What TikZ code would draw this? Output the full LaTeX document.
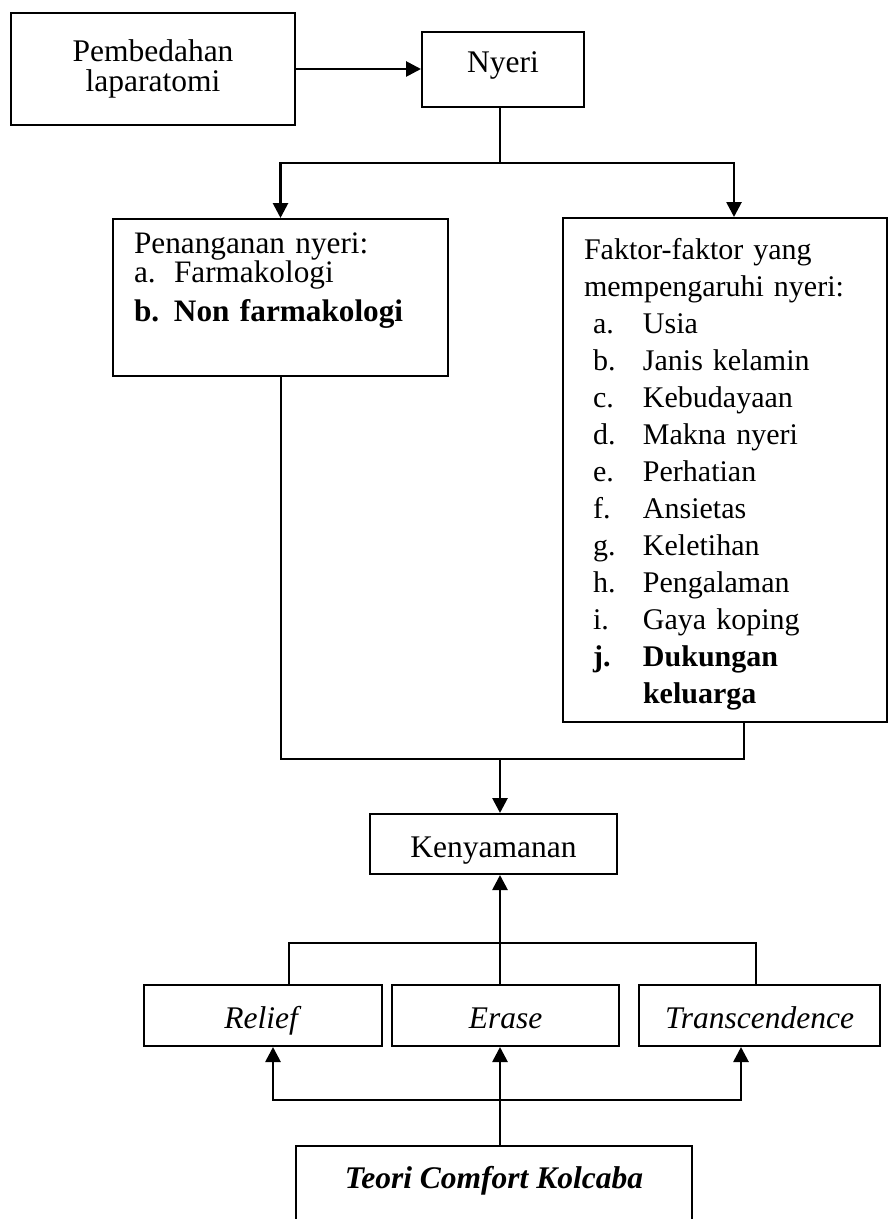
\documentclass[tikz,border=0pt]{standalone}
\usepackage{fontspec}
\setmainfont{Liberation Serif}
\usepackage{tikz}
\usetikzlibrary{arrows.meta,positioning}
\tikzset{
  box/.style ={draw, line width=0.8pt, inner sep=0pt, align=center, font=\fontsize{12.6}{12.3}\selectfont},
  lst/.style ={box, align=left, anchor=north west, inner xsep=8.4pt, inner ysep=0pt},
  row/.style ={box, minimum width=#1, text height=17.2pt, text depth=7.2pt},
  arr/.style ={-{Triangle[length=6pt,width=6pt]}, line width=1.1pt},
  ln/.style  ={line width=0.8pt},
}
\newcommand{\itm}[2]{\hspace*{3.6pt}\makebox[20pt][l]{#1}#2}

\begin{document}
\begin{tikzpicture}[x=0.4pt, y=-0.4pt]
  \useasboundingbox (0,0) rectangle (888,1219);
  \clip (0,0) rectangle (888,1219);
  \coordinate (mid) at (500,0);
  \coordinate (split) at (500,163);
  \coordinate (join) at (500,759);
  \coordinate (hub) at (500,1100);

  \node[box, anchor=north west, minimum width=113.6pt, minimum height=44.8pt] (pemb) at (10,12) {Pembedahan\\laparatomi};
  \node[box, anchor=north west, minimum width=64.8pt, text height=16.4pt, text depth=13.6pt] (nyeri) at (421,31) {Nyeri};
  \node[lst, text width=117.2pt, text height=13.6pt, text depth=49.2pt, font=\fontsize{12.5}{11.6}\selectfont] (pen) at (112,218)
    {Penanganan nyeri:\\ \makebox[16pt][l]{a.}Farmakologi\\[4pt] \textbf{\makebox[16pt][l]{b.}Non farmakologi}};
  \node[lst, text width=112.8pt, text height=16.4pt, text depth=185.2pt, font=\fontsize{12}{14.8}\selectfont] (fak) at (562,217)
    {Faktor-faktor yang\\ mempengaruhi nyeri:\\
     \itm{a.}{Usia}\\ \itm{b.}{Janis kelamin}\\ \itm{c.}{Kebudayaan}\\ \itm{d.}{Makna nyeri}\\
     \itm{e.}{Perhatian}\\ \itm{f.}{Ansietas}\\ \itm{g.}{Keletihan}\\ \itm{h.}{Pengalaman}\\
     \itm{i.}{Gaya koping}\\ \textbf{\itm{j.}{Dukungan}}\\ \textbf{\hspace*{23.6pt}keluarga}};
  \node[box, anchor=north west, minimum width=98.8pt, text height=17.2pt, text depth=6.8pt] (ken) at (369,813) {Kenyamanan};
  \node[row=95.2pt, anchor=north west] (rel) at (143,984) {\textit{Relief}};
  \node[row=90.8pt, right=3.2pt of rel] (era) {\textit{Erase}};
  \node[row=96.4pt, right=7.2pt of era] (tra) {\textit{Transcendence}};
  \node[box, anchor=north west, minimum width=158.4pt, text height=16.8pt, text depth=30pt] (teo) at (295,1145) {\textbf{\textit{Teori Comfort Kolcaba}}};

  % top half
  \draw[arr] (pemb.east) -- (pemb.east -| nyeri.west);
  \draw[ln] (mid |- nyeri.south) -- (split);
  \draw[arr] (split) -| (pen.north);
  \draw[arr] (split) -| ([xshift=3.6pt]fak.north);
  \draw[ln] (pen.south) |- (join) -| ([xshift=7.6pt]fak.south);
  \draw[arr] (join) -- (join |- ken.north);

  % comfort part
  \draw[arr] (mid |- era.north) -- (mid |- ken.south);
  \draw[ln] ([xshift=10.4pt]rel.north) -- ++(0,-41) -| ([xshift=-1.4pt]tra.north);
  \draw[line width=1.1pt] (mid |- teo.north) -- (hub);
  \draw[arr] (hub) -| ([xshift=4pt]rel.south);
  \draw[arr] (hub) -| ([xshift=-7.4pt]tra.south);
  \draw[arr] (hub) -- (mid |- era.south);
\end{tikzpicture}
\end{document}
